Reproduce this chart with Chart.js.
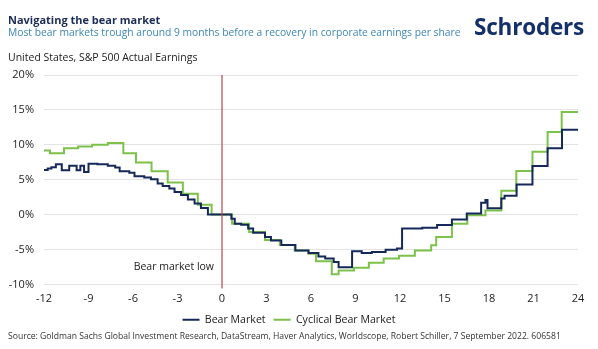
<!DOCTYPE html>
<html>
<head>
<meta charset="utf-8">
<script src="https://cdn.jsdelivr.net/npm/chart.js@4"></script>
<style>
  body { margin: 0; background: #fff; font-family: "Open Sans", sans-serif; }
  #wrap { position: relative; width: 598px; height: 349px; overflow: hidden; }
  #grafico { position: absolute; left: 0; top: 0; }
  .txt { position: absolute; white-space: nowrap; }
  #titulo { left: 8px; top: 12px; font-size: 11px; font-weight: 700; color: #1b2c55; }
  #subtitulo { left: 8px; top: 25px; font-size: 10.3px; color: #3c86b6; }
  #logo { left: 474px; top: 10px; font-size: 22.5px; line-height: 34px; font-weight: 700; color: #13306b; letter-spacing: -0.2px; }
  #pais { left: 8px; top: 50px; font-size: 10.5px; color: #222; }
  #fonte { left: 8px; top: 330px; font-size: 8.6px; color: #333; }
</style>
</head>
<body>
<div id="wrap">
  <canvas id="grafico" width="598" height="349"></canvas>
  <div class="txt" id="titulo">Navigating the bear market</div>
  <div class="txt" id="subtitulo">Most bear markets trough around 9 months before a recovery in corporate earnings per share</div>
  <div class="txt" id="logo">Schroders</div>
  <div class="txt" id="pais">United States, S&amp;P 500 Actual Earnings</div>
  <div class="txt" id="fonte">Source: Goldman Sachs Global Investment Research, DataStream, Haver Analytics, Worldscope, Robert Schiller, 7 September 2022. 606581</div>
</div>
<script>
// months relative to the bear market low, and where each step of the line starts
const bearMonths = [-12, -11.75, -11.5, -11.2, -10.8, -10.3, -9.8, -9.55, -9.3, -9.0, -8.4, -7.7, -7.2, -6.9, -6.25, -5.9,
  -5.24, -4.79, -4.34, -4.0, -3.55, -3.2, -2.76, -2.3, -1.85, -1.42, -0.95, 0.63, 0.86, 1.29, 1.76, 2.1, 2.9, 3.3, 4.0,
  4.95, 5.83, 6.5, 6.96, 7.53, 7.86, 8.77, 9.42, 10.1, 11.03, 11.8, 12.14, 13.5, 14.5, 15.5, 16.5, 17.47, 17.76, 17.9,
  18.83, 19.05, 19.86, 20.93, 21.95, 22.92, 24];
const bearValues = [6.4, 6.6, 6.8, 7.2, 6.35, 7.0, 6.35, 7.0, 6.1, 7.3, 7.2, 7.0, 6.75, 6.2, 6.0, 5.5,
  5.3, 5.05, 4.45, 4.1, 3.75, 3.25, 2.8, 2.15, 1.6, 0.95, 0, -0.6, -1.3, -1.45, -2.0, -2.6, -3.2, -3.7, -4.35,
  -5.15, -5.5, -6.0, -6.3, -6.8, -7.55, -5.25, -5.5, -5.35, -5.05, -4.85, -2.0, -1.9, -1.5, -0.7, 0.15, 1.7, 2.1, 0.9,
  2.3, 2.7, 4.3, 6.95, 9.5, 12.15, 12.15];

const cyclicalMonths = [-12, -11.6, -10.65, -9.7, -8.75, -7.7, -6.65, -5.8, -4.75, -3.66, -2.64, -1.63, -0.7, 0.68,
  1.83, 2.9, 3.9, 4.9, 5.83, 6.34, 7.4, 7.86, 8.9, 9.9, 10.9, 11.93, 13.0, 14.1, 14.44, 15.5, 16.54, 17.76, 18.83,
  19.84, 20.93, 21.95, 22.9, 24];
const cyclicalValues = [9.2, 8.8, 9.5, 9.75, 10.0, 10.25, 8.8, 7.45, 6.2, 4.6, 3.0, 1.4, 0, -1.3,
  -2.5, -3.65, -4.35, -5.15, -5.6, -6.7, -8.55, -8.0, -7.6, -6.9, -6.3, -5.9, -5.15, -4.4, -3.2, -1.3, -0.1, 0.6, 3.4,
  6.25, 9.0, 11.85, 14.7, 14.7];

const xTicks = [-12, -9, -6, -3, 0, 3, 6, 9, 12, 15, 18, 21, 24];
const yTicks = [-10, -5, 0, 5, 10, 15, 20];
const lowMonth = 0;  // bear market low

function montaPontos(meses, valores) {
  return meses.map(function(m, i) { return { x: m, y: valores[i] }; });
}

// red line and label at the bear market low
const linhaBaixa = {
  id: 'linhaBaixa',
  afterDatasetsDraw: function(chart) {
    const ctx = chart.ctx;
    const xs = chart.scales.x;
    const ys = chart.scales.y;
    const px = xs.getPixelForValue(lowMonth);
    ctx.save();
    ctx.strokeStyle = '#b8464b';
    ctx.lineWidth = 1.2;
    ctx.beginPath();
    ctx.moveTo(px, ys.getPixelForValue(20));
    ctx.lineTo(px, ys.getPixelForValue(-10) + 4);
    ctx.stroke();
    ctx.fillStyle = '#222';
    ctx.font = '10.5px "Open Sans"';
    ctx.textAlign = 'right';
    ctx.textBaseline = 'middle';
    ctx.fillText('Bear market low', px - 8, ys.getPixelForValue(-7.5));
    ctx.restore();
  }
};

new Chart(document.getElementById('grafico'), {
  type: 'line',
  data: {
    datasets: [{
      label: 'Bear Market',
      data: montaPontos(bearMonths, bearValues),
      borderColor: '#14295a',
      borderWidth: 2,
      stepped: true,
      pointRadius: 0,
      fill: false
    }, {
      label: 'Cyclical Bear Market',
      data: montaPontos(cyclicalMonths, cyclicalValues),
      borderColor: '#7cc24a',
      borderWidth: 2,
      stepped: true,
      pointRadius: 0,
      fill: false
    }]
  },
  options: {
    responsive: false,
    animation: false,
    layout: { padding: { top: 75, right: 20, bottom: 14, left: 0 } },
    plugins: {
      legend: {
        position: 'bottom',
        labels: {
          usePointStyle: true,
          pointStyle: 'line',
          pointStyleWidth: 17,
          color: '#222',
          font: { family: 'Open Sans', size: 10.6 },
          padding: 8
        }
      },
      tooltip: { enabled: false }
    },
    scales: {
      x: {
        type: 'linear',
        min: -12,
        max: 24,
        afterBuildTicks: function(axis) { axis.ticks = xTicks.map(function(v) { return { value: v }; }); },
        afterFit: function(axis) { axis.height = 22; },
        grid: { display: false, drawTicks: false },
        border: { display: false },
        ticks: { color: '#222', font: { family: 'Open Sans', size: 11 }, padding: 8, maxRotation: 0 }
      },
      y: {
        min: -10,
        max: 20,
        afterBuildTicks: function(axis) { axis.ticks = yTicks.map(function(v) { return { value: v }; }); },
        afterFit: function(axis) { axis.width = 44; },
        grid: { color: '#e3e3e3', lineWidth: 1, drawTicks: false },
        border: { display: false },
        ticks: {
          color: '#222',
          font: { family: 'Open Sans', size: 11 },
          padding: 10,
          callback: function(v) { return v + '%'; }
        }
      }
    }
  },
  plugins: [linhaBaixa]
});
</script>
</body>
</html>
